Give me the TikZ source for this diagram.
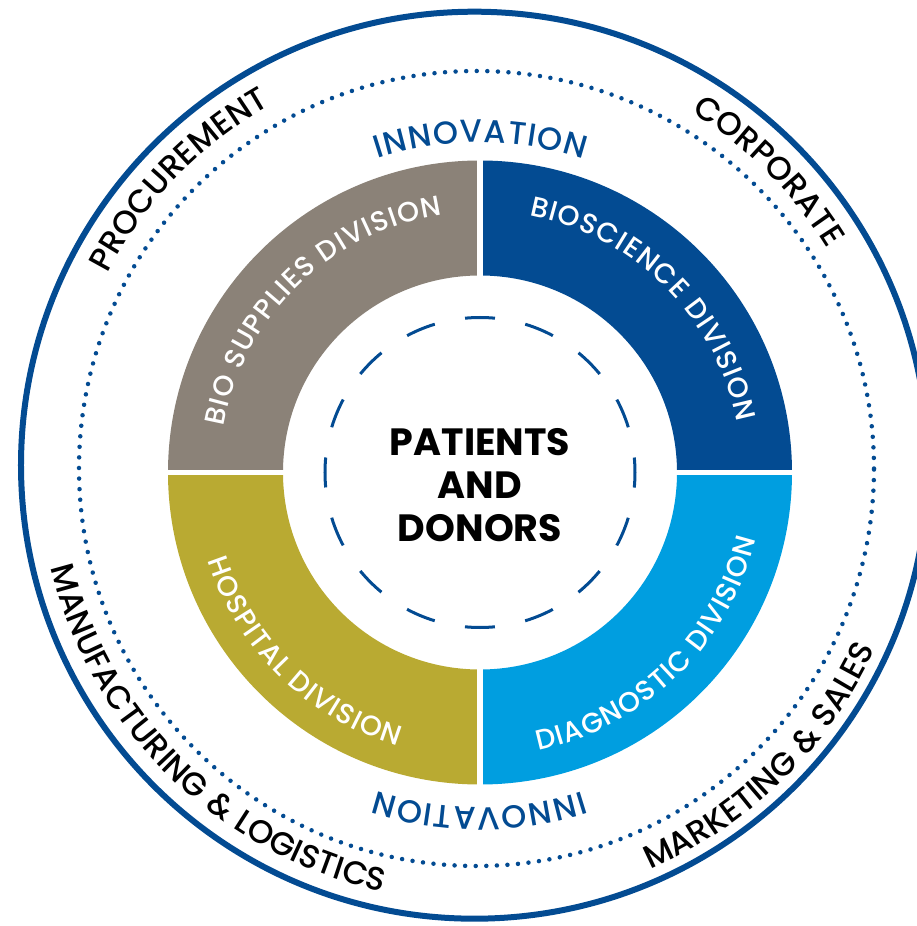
\documentclass[tikz,border=0pt]{standalone}
\usepackage{fontspec}
\setmainfont{Poppins}
\newfontfamily\ringfont[LetterSpace=4]{Poppins Medium}
\newfontfamily\divfont{Poppins Medium}
\usetikzlibrary{decorations.text}

\definecolor{ringblue}{HTML}{034B92}
\definecolor{biogray}{HTML}{8B8278}
\definecolor{bioblue}{HTML}{034B92}
\definecolor{hospolive}{HTML}{B9AA32}
\definecolor{diagblue}{HTML}{009EE0}

\newcommand\innlbl{\ringfont\fontsize{32}{32}\selectfont\color{ringblue}\kern1.2pt}
\newcommand\outlbl{\ringfont\fontsize{32.5}{32.5}\selectfont\color{black}}
\newcommand\divlbl{\divfont\fontsize{28}{28}\selectfont\color{white}\kern1.1pt}

\begin{document}
\begin{tikzpicture}[x=1pt,y=1pt,
	arctext/.style={decorate,decoration={text along path,text align=center,text={#1}}},
	sector/.style={even odd rule}]
	\useasboundingbox (-480,-453.5) rectangle (437,472.5);
	\coordinate (c) at (0,0);
	\coordinate (oc) at (-5.5,7.3);
	\coordinate (dc) at (-3.5,4);

	% rings
	\draw[ringblue,line width=6pt] (oc) circle[radius=453.5pt];
	\draw[ringblue,line width=4.5pt,line cap=round,dash pattern=on 0pt off 10.58pt] (dc) circle[radius=397.5pt];

	% divisions
	\foreach \sx/\sy/\col in {1/1/bioblue,-1/1/biogray,-1/-1/hospolive,1/-1/diagblue}{
		\begin{scope}
			\clip (\sx*3.2,\sy*3.4) rectangle (\sx*330,\sy*330);
			\fill[\col,sector] (c) circle[radius=312pt] circle[radius=197pt];
		\end{scope}
	}
	\draw[ringblue,line width=3pt,dash pattern=on 30pt off 30.87pt,dash phase=15pt] (c) circle[radius=155pt];

	\node[font=\bfseries\fontsize{38}{43}\selectfont,align=center,inner sep=0pt] (pd) at (0,-12.3) {PATIENTS\\AND\\DONORS};

	% innovation
	\path[arctext={|\innlbl|INNOVATION}] (130:330pt) arc[start angle=130,end angle=50,radius=330pt];
	\path[arctext={|\innlbl|INNOVATION}] (310:335pt) arc[start angle=310,end angle=230,radius=335pt];

	% outer ring
	\path[shift={(oc)},arctext={|\outlbl|PROCUREMENT}] (186:414pt) arc[start angle=186,end angle=86,radius=414pt];
	\path[shift={(oc)},arctext={|\outlbl|CORPORATE}] (95:414pt) arc[start angle=95,end angle=-5,radius=414pt];
	\path[shift={(oc)},arctext={|\outlbl|MANUFACTURING {\&} LOGISTICS}] (165:436pt) arc[start angle=165,end angle=286.5,radius=436pt];
	\path[shift={(oc)},arctext={|\outlbl|MARKETING {\&} SALES}] (264.4:441pt) arc[start angle=264.4,end angle=364.4,radius=441pt];

	% division labels
	\path[arctext={|\divlbl|BIO SUPPLIES DIVISION}] (184.2:260.5pt) arc[start angle=184.2,end angle=84.2,radius=260.5pt];
	\path[arctext={|\divlbl|BIOSCIENCE DIVISION}] (95.25:262pt) arc[start angle=95.25,end angle=-4.75,radius=262pt];
	\path[arctext={|\divlbl|HOSPITAL DIVISION}] (175.5:286pt) arc[start angle=175.5,end angle=275.5,radius=286pt];
	\path[arctext={|\divlbl|DIAGNOSTIC DIVISION}] (264:284pt) arc[start angle=264,end angle=364,radius=284pt];
\end{tikzpicture}
\end{document}
